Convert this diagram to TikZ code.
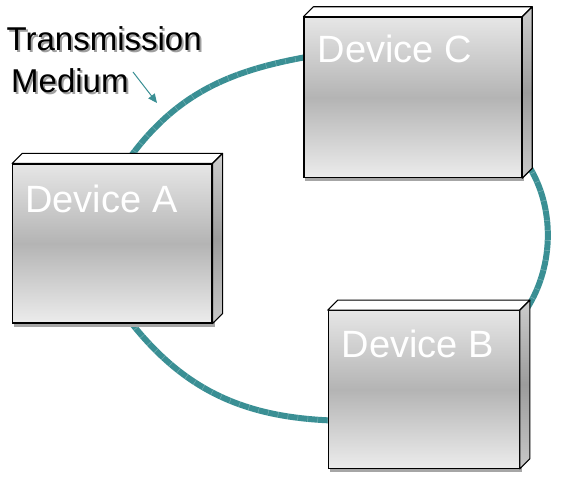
\documentclass[tikz,border=0pt]{standalone}
\usepackage{fontspec}
\setmainfont{Liberation Sans}
\usetikzlibrary{calc,arrows.meta}
\definecolor{ringc}{RGB}{58,143,148}
\definecolor{fTop}{RGB}{230,230,230}
\definecolor{fMid}{RGB}{180,180,180}
\definecolor{fBot}{RGB}{236,236,236}
\definecolor{sTop}{RGB}{205,205,205}
\definecolor{sMid}{RGB}{156,156,156}
\definecolor{sBot}{RGB}{200,200,200}
\pgfdeclarelayer{background}
\pgfdeclarelayer{shadowlayer}
\pgfsetlayers{background,shadowlayer,main}
\newcommand\devfaces[1]{%
  \begin{pgfonlayer}{shadowlayer}
  \fill[gray!70] ($(#1.north west)+(2,-3)$) rectangle ($(#1.south east)+(2,-3)$);
  \end{pgfonlayer}
  \draw[topface] (#1.north west) -- ++(10,10) -- ($(#1.north east)+(10,10)$) -- (#1.north east) -- cycle;
  \draw[sideface] (#1.north east) -- ++(10,10) -- ($(#1.south east)+(10,10)$) -- (#1.south east) -- cycle;}
\newcommand\shadowtext[1]{\rlap{\hspace{2pt}\raisebox{-2pt}{\color{gray!75}#1}}#1}
\begin{document}
\begin{tikzpicture}[x=1pt,y=1pt,
  devbox/.style={rectangle, draw=black, line width=1.1pt, inner sep=0pt,
    top color=fTop, bottom color=fBot, middle color=fMid},
  topface/.style={draw=black, line width=1.1pt, line join=round, fill=white},
  sideface/.style={draw=black, line width=1.1pt, line join=round, top color=sTop, bottom color=sBot, middle color=sMid},
  devlabel/.style={anchor=base west, inner sep=0pt, text=white, font=\fontsize{38}{38}\selectfont},
  medlabel/.style={anchor=base west, inner sep=0pt, font=\fontsize{33}{33}\selectfont},
  ring/.style={draw=ringc, line width=6pt,
    postaction={draw=white, draw opacity=0.3, line width=6pt, dash pattern=on 0.5pt off 9.5pt}}]
\useasboundingbox (0,0) rectangle (562,480);
% devices
\node[devbox, minimum width=199.3pt, minimum height=159pt] (A) at (112.35,236.5) {};
\node[devbox, minimum width=217.7pt, minimum height=160.4pt] (C) at (412.85,382.5) {};
\node[devbox, minimum width=191pt, minimum height=157.6pt] (B) at (423.8,90.5) {};
\devfaces{A}
\devfaces{C}
\devfaces{B}
\node[devlabel] (lA) at ($(A.north west)+(13,-49)$) {Device A};
\node[devlabel] (lC) at ($(C.north west)+(14,-45.7)$) {Device C};
\node[devlabel] (lB) at ($(B.north west)+(13.7,-47.3)$) {Device B};
% ring connectors
\coordinate (Atop) at ($(A.north west)+(116.3,4)$);
\coordinate (Cleft) at ($(C.north west)+(6,-39.7)$);
\coordinate (Cse) at ($(C.south east)+(5.3,14.2)$);
\coordinate (Bne) at ($(B.north east)+(7.7,2.7)$);
\coordinate (Asw) at ($(A.south west)+(117.3,3)$);
\coordinate (Bsw) at ($(B.south west)+(5.7,48.3)$);
\begin{pgfonlayer}{background}
\draw[ring] (Atop) to[out=54,in=190] (Cleft);
\draw[ring] (Cse) to[out=-57,in=58,looseness=0.9] (Bne);
\draw[ring] (Asw) to[out=-52,in=178] (Bsw);
\end{pgfonlayer}
% label
\node[medlabel] (t1) at (6.5,429) {\shadowtext{Transmission}};
\node[medlabel] (t2) at (11,387.7) {\shadowtext{Medium}};
\coordinate (arrS) at (133,408);
\coordinate (arrE) at (157,377);
\draw[ringc, line width=1pt, -{Triangle[length=9pt,width=8pt]}] (arrS) -- (arrE);
\end{tikzpicture}
\end{document}
